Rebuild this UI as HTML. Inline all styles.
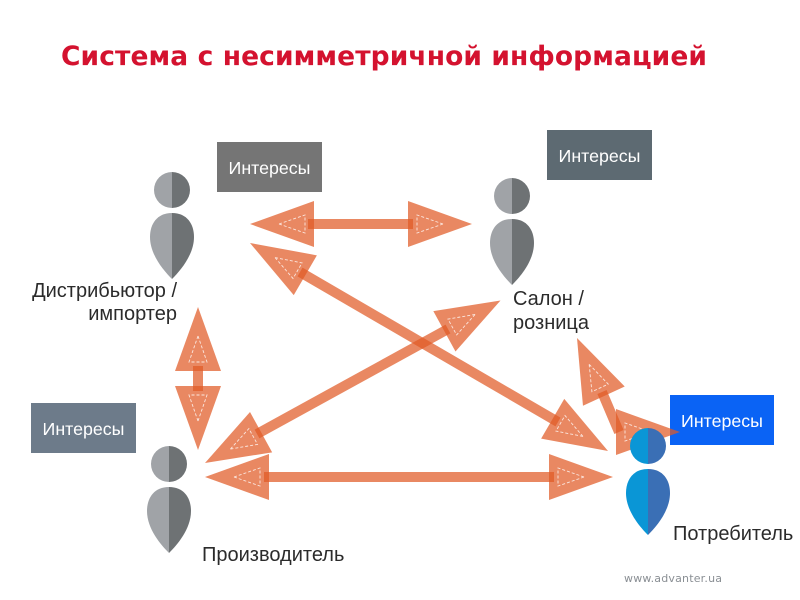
<!DOCTYPE html>
<html><head><meta charset="utf-8"><style>
html,body{margin:0;padding:0;background:#fff}
svg{display:block}
text{font-family:"Liberation Sans",sans-serif;fill:#2b2b2b;font-size:20px}
.b{fill:#fff;font-size:17.800px;text-anchor:middle}
</style></head><body>
<svg width="800" height="600" viewBox="0 0 800 600" xmlns="http://www.w3.org/2000/svg">
<defs>
<g id="h">
<polygon points="0,0 -64,-23 -64,23" fill="#e05a25" fill-opacity=".72"/>
<polygon points="-29,0 -55,-9 -55,9" fill="none" stroke="#fff" stroke-width=".9" stroke-dasharray="3 2" stroke-opacity=".8"/>
</g>
<path id="lb" d="M0,0 C-15,0 -22,11 -22,24 C-22,42 -8,58 0,66 Z"/>
<path id="rb" d="M0,0 C15,0 22,11 22,24 C22,42 8,58 0,66 Z"/>
<g id="pg">
<path d="M0,0 A18,18 0 0 0 0,36 Z" fill="#a0a3a7"/><path d="M0,0 A18,18 0 0 1 0,36 Z" fill="#6e7274"/>
<use href="#lb" y="41" fill="#a0a3a7"/><use href="#rb" y="41" fill="#6e7274"/>
</g>
</defs>

<text x="61" y="65" textLength="646" lengthAdjust="spacing" style="font-family:'DejaVu Sans',sans-serif;font-weight:700;font-size:26.500px;fill:#d4122f">Система с несимметричной информацией</text>

<rect x="217" y="142" width="105" height="50" fill="#757575"/>
<rect x="547" y="130" width="105" height="50" fill="#5d6a72"/>
<rect x="31" y="403" width="105" height="50" fill="#6d7b8a"/>
<rect x="670" y="395" width="104" height="50" fill="#0a63f5"/>
<text class="b" x="269.500" y="174">Интересы</text>
<text class="b" x="599.500" y="162">Интересы</text>
<text class="b" x="83.500" y="435">Интересы</text>
<text class="b" x="722" y="427">Интересы</text>

<g stroke="#e05a25" stroke-opacity=".72" stroke-width="10" fill="none">
<line x1="308" y1="224" x2="413" y2="224"/>
<line x1="300" y1="272" x2="558" y2="422"/>
<line x1="448" y1="329" x2="257" y2="434"/>
<line x1="264" y1="477" x2="554" y2="477"/>
<line x1="198" y1="366" x2="198" y2="391"/>
<line x1="602" y1="392" x2="619" y2="432"/>
</g>
<use href="#h" transform="translate(250,224) rotate(180)"/>
<use href="#h" transform="translate(472,224)"/>
<use href="#h" transform="translate(250,243) rotate(210.200)"/>
<use href="#h" transform="translate(608,451) rotate(30.200)"/>
<use href="#h" transform="translate(500.500,300.500) rotate(-28.800)"/>
<use href="#h" transform="translate(205,463) rotate(151.200)"/>
<use href="#h" transform="translate(205,477) rotate(180)"/>
<use href="#h" transform="translate(613,477)"/>
<use href="#h" transform="translate(198,307) rotate(-90)"/>
<use href="#h" transform="translate(198,450) rotate(90)"/>
<use href="#h" transform="translate(577,338) rotate(-114.800)"/>
<use href="#h" transform="translate(680,432)"/>

<use href="#pg" x="172" y="172"/>
<use href="#pg" x="512" y="178"/>
<use href="#pg" x="169" y="446"/>
<path d="M648,428 A18,18 0 0 0 648,464 Z" fill="#0a96d6"/><path d="M648,428 A18,18 0 0 1 648,464 Z" fill="#3a6fb5"/>
<use href="#lb" x="648" y="469" fill="#0a96d6"/><use href="#rb" x="648" y="469" fill="#3a6fb5"/>

<text x="177" y="297" text-anchor="end">Дистрибьютор /</text>
<text x="177" y="320" text-anchor="end">импортер</text>
<text x="513" y="305">Салон /</text>
<text x="513" y="329">розница</text>
<text x="202" y="561">Производитель</text>
<text x="673" y="540">Потребитель</text>
<text x="624" y="582" style="font-family:'DejaVu Sans',sans-serif;font-size:11px;fill:#8a8f94" textLength="98" lengthAdjust="spacing">www.advanter.ua</text>
</svg>
</body></html>
